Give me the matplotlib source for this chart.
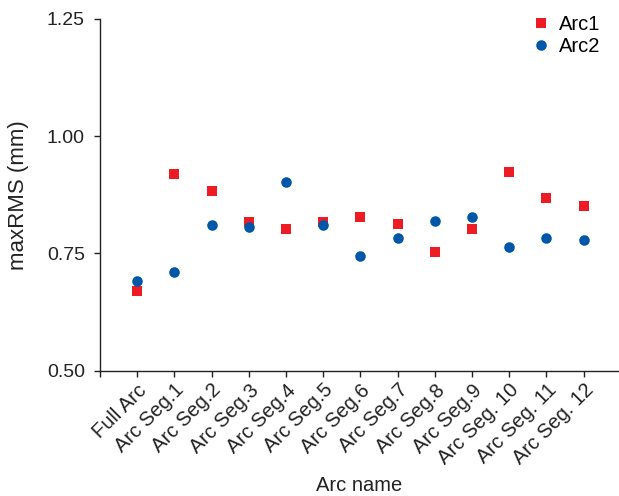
import matplotlib.pyplot as plt

plt.rcParams['font.family'] = ['Liberation Sans', 'DejaVu Sans']

arc_names = ['Full Arc', 'Arc Seg.1', 'Arc Seg.2', 'Arc Seg.3', 'Arc Seg.4',
             'Arc Seg.5', 'Arc Seg.6', 'Arc Seg.7', 'Arc Seg.8', 'Arc Seg.9',
             'Arc Seg. 10', 'Arc Seg. 11', 'Arc Seg. 12']
arc1 = [0.669, 0.919, 0.883, 0.817, 0.802, 0.817, 0.827, 0.812, 0.753, 0.802,
        0.923, 0.869, 0.851]
arc2 = [0.691, 0.711, 0.810, 0.807, 0.903, 0.811, 0.745, 0.784, 0.820, 0.827,
        0.764, 0.782, 0.778]

red = '#ed1c24'
blue = '#0057a8'
ink = '#222222'

fig = plt.figure(figsize=(6.19, 4.96), dpi=100)
ax = fig.add_axes([0.1616, 0.2526, 0.8384, 0.7091])

x = list(range(1, len(arc_names) + 1))
ax.plot(x, arc1, linestyle='none', marker='s', markersize=6.6,
        color=red, markeredgewidth=0, label='Arc1')
ax.plot(x, arc2, linestyle='none', marker='o', markersize=7.6,
        color=blue, markeredgewidth=0, label='Arc2')

ax.set_xlim(0, 13.95)
ax.set_ylim(0.5, 1.25)
ax.set_yticks([0.50, 0.75, 1.00, 1.25])
ax.set_yticklabels(['0.50', '0.75', '1.00', '1.25'])
ax.set_xticks([0] + x)
ax.set_xticklabels([''] + arc_names, rotation=45, ha='right',
                   rotation_mode='anchor')

for side in ['top', 'right']:
    ax.spines[side].set_visible(False)
for side in ['left', 'bottom']:
    ax.spines[side].set_color(ink)
    ax.spines[side].set_linewidth(1.0)

ax.tick_params(axis='both', direction='out', length=4, width=1.0,
               color=ink, labelsize=14, labelcolor=ink)
ax.tick_params(axis='y', pad=7)
ax.tick_params(axis='x', labelsize=14.5, pad=3)

ax.set_xlabel('Arc name', fontsize=14.5, color=ink)
ax.xaxis.set_label_coords(0.5, -0.30)
ax.set_ylabel('maxRMS (mm)', fontsize=16, color=ink)
ax.yaxis.set_label_coords(-0.136, 0.5)

ax.legend(loc='upper right', frameon=False, fontsize=14.5, handletextpad=0.4,
          handlelength=1.0, labelspacing=0.15, borderaxespad=0.0,
          bbox_to_anchor=(0.98, 1.035))

fig.savefig('out.png', dpi=100)
